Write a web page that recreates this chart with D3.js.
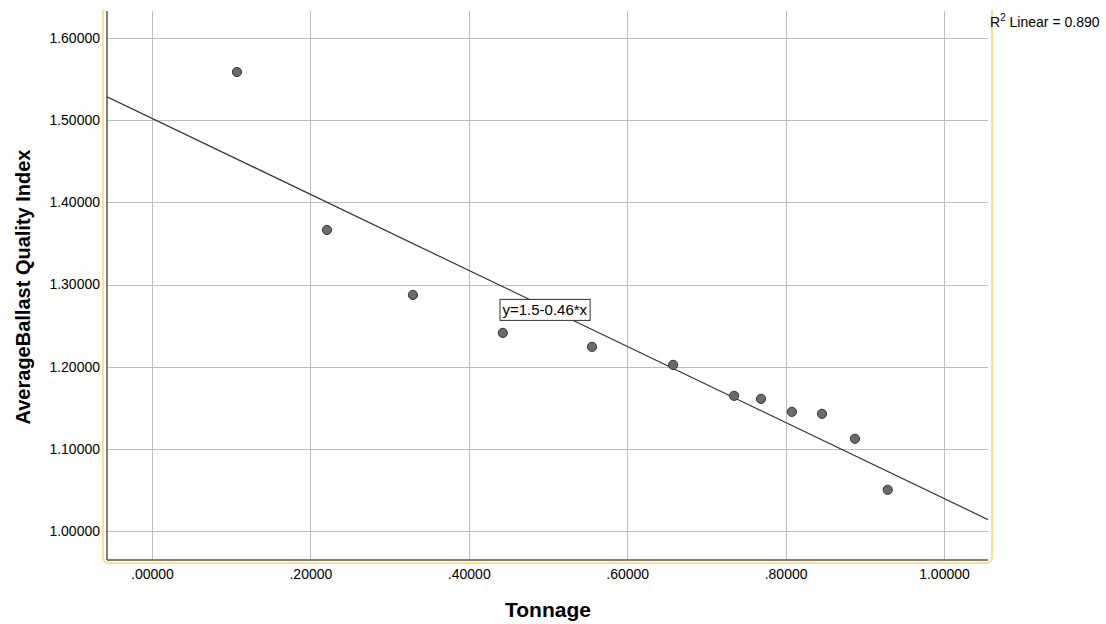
<!DOCTYPE html>
<html>
<head>
<meta charset="utf-8">
<script src="https://cdn.jsdelivr.net/npm/d3@7"></script>
<style>
  body { margin: 0; background: #fff; }
  svg text { font-family: "Liberation Sans", Arial, sans-serif; fill: #000; }
</style>
</head>
<body>
<div id="chart"></div>
<script>
// data
var tonnage = [0.1073, 0.2210, 0.3295, 0.4430, 0.5556, 0.6580, 0.7350, 0.7690, 0.8080, 0.8460, 0.8876, 0.9290];
var quality = [1.5586, 1.3664, 1.2873, 1.2411, 1.2241, 1.2022, 1.1645, 1.1608, 1.1450, 1.1426, 1.1122, 1.0501];
var xTicks = [0, 0.2, 0.4, 0.6, 0.8, 1.0];
var yTicks = [1.0, 1.1, 1.2, 1.3, 1.4, 1.5, 1.6];
var fitLabel = "y=1.5-0.46*x";
var r2Label = "Linear = 0.890";

var W = 1106, H = 624;
var pl = 107, pr = 988, pt = 10, pb = 560;

var svg = d3.select("#chart").append("svg")
  .attr("width", W).attr("height", H);

var x = d3.scaleLinear().domain([-0.0568, 1.0556]).range([pl, pr]);
var y = d3.scaleLinear().domain([0.9647, 1.6341]).range([pb, pt]);

var fmt = function(d) {
  var s = d.toFixed(5);
  return s.charAt(0) === "0" ? s.slice(1) : s;
};

// yellow frame round the plot
svg.append("path")
  .attr("d", "M103,10 L103,557 Q103,563 109,563 L986,563 Q992,563 992,557 L992,10")
  .attr("fill", "none").attr("stroke", "#fbe28a").attr("stroke-width", 2);

// grid
svg.append("g").selectAll("line").data(xTicks).enter().append("line")
  .attr("x1", function(d) { return Math.round(x(d)) + 0.5; }).attr("x2", function(d) { return Math.round(x(d)) + 0.5; })
  .attr("y1", pt + 1).attr("y2", pb)
  .attr("stroke", "#bdbdbd").attr("stroke-width", 1);
svg.append("g").selectAll("line").data(yTicks).enter().append("line")
  .attr("y1", function(d) { return Math.round(y(d)) + 0.5; }).attr("y2", function(d) { return Math.round(y(d)) + 0.5; })
  .attr("x1", pl).attr("x2", pr)
  .attr("stroke", "#bdbdbd").attr("stroke-width", 1);

// axes lines
svg.append("line").attr("x1", pl).attr("x2", pl).attr("y1", pt + 1).attr("y2", pb)
  .attr("stroke", "#555").attr("stroke-width", 1.5);
svg.append("line").attr("x1", pl).attr("x2", pr).attr("y1", pb).attr("y2", pb)
  .attr("stroke", "#555").attr("stroke-width", 1.5);

// tick labels
var xAxis = d3.axisBottom(x).tickValues(xTicks).tickFormat(fmt).tickSize(0).tickPadding(9);
var gx = svg.append("g").attr("transform", "translate(0," + pb + ")").call(xAxis);
gx.select(".domain").remove();
gx.selectAll("text").style("font-size", "14px").attr("fill", "#000");

var yAxis = d3.axisLeft(y).tickValues(yTicks).tickFormat(fmt).tickSize(0).tickPadding(7);
var gy = svg.append("g").attr("transform", "translate(" + pl + ",0)").call(yAxis);
gy.select(".domain").remove();
gy.selectAll("text").style("font-size", "14px").attr("fill", "#000");

// least squares fit
var mx = d3.mean(tonnage), my = d3.mean(quality);
var sxy = d3.sum(tonnage, function(v, i) { return (v - mx) * (quality[i] - my); });
var sxx = d3.sum(tonnage, function(v) { return (v - mx) * (v - mx); });
var slope = sxy / sxx, icpt = my - slope * mx;

svg.append("clipPath").attr("id", "clip").append("rect")
  .attr("x", pl).attr("y", pt).attr("width", pr - pl).attr("height", pb - pt);

var xd = x.domain();
svg.append("line")
  .attr("clip-path", "url(#clip)")
  .attr("x1", x(xd[0])).attr("y1", y(icpt + slope * xd[0]))
  .attr("x2", x(xd[1])).attr("y2", y(icpt + slope * xd[1]))
  .attr("stroke", "#333").attr("stroke-width", 1.2);

// points
svg.append("g").selectAll("circle").data(tonnage).enter().append("circle")
  .attr("cx", function(d) { return x(d); })
  .attr("cy", function(d, i) { return y(quality[i]); })
  .attr("r", 4.6)
  .attr("fill", "#6b6b6b").attr("stroke", "#333").attr("stroke-width", 1);

// equation box
var lx = 0.4394, ly = 1.2691;
var boxRect = svg.append("rect");
var lt = svg.append("text").attr("x", x(lx) + 2.5).attr("y", y(ly) + 5.5)
  .style("font-size", "15px").text(fitLabel);
var bb = lt.node().getBBox();
boxRect
  .attr("x", bb.x - 2.5).attr("y", bb.y - 2)
  .attr("width", bb.width + 5).attr("height", bb.height + 4)
  .attr("fill", "#fff").attr("stroke", "#333").attr("stroke-width", 1);

// R squared label
var r2 = svg.append("text").attr("x", 990).attr("y", 27).style("font-size", "14px");
r2.append("tspan").text("R");
r2.append("tspan").attr("dy", -6).style("font-size", "10px").text("2");
r2.append("tspan").attr("dy", 6).text(" " + r2Label);

// axis titles
svg.append("text").attr("x", 548).attr("y", 617).attr("text-anchor", "middle")
  .style("font-size", "21px").style("font-weight", "bold").text("Tonnage");
svg.append("text").attr("transform", "translate(30,287) rotate(-90)").attr("text-anchor", "middle")
  .style("font-size", "20px").style("font-weight", "bold").text("AverageBallast Quality Index");
</script>
</body>
</html>
